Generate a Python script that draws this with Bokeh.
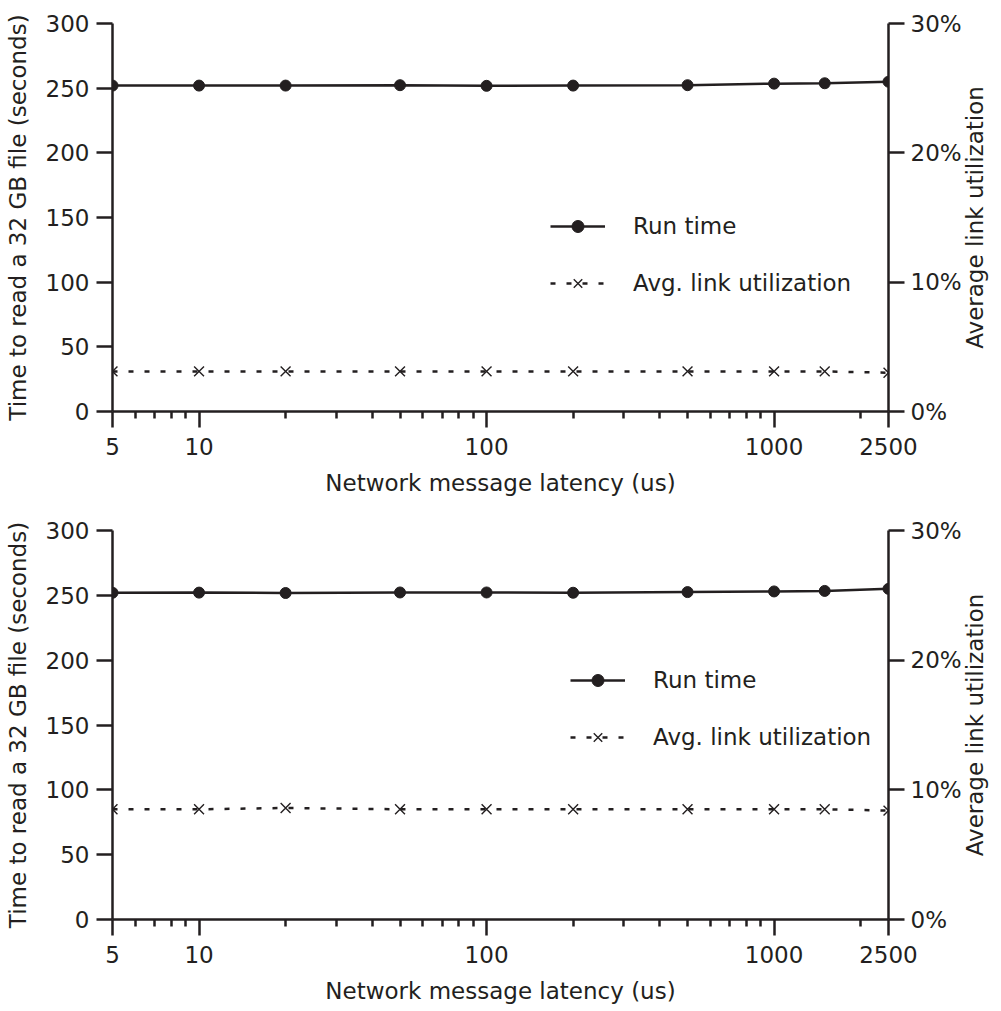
import math
from bokeh.plotting import figure
from bokeh.models import (Range1d, LinearAxis, FixedTicker, NumeralTickFormatter,
                          PrintfTickFormatter, Legend, LegendItem, ColumnDataSource, Label)
from bokeh.layouts import column
from bokeh.embed import file_html
from bokeh.resources import INLINE

# ---- data ----
latency = [5, 10, 20, 50, 100, 200, 500, 1000, 1500, 2500]
run_time_a = [252.0, 252.0, 252.0, 252.3, 251.8, 252.0, 252.3, 253.5, 253.8, 255.0]
util_a = [3.1, 3.1, 3.1, 3.1, 3.1, 3.1, 3.1, 3.1, 3.1, 3.0]
run_time_b = [252.0, 252.1, 251.8, 252.2, 252.2, 252.0, 252.5, 253.0, 253.4, 255.0]
util_b = [8.5, 8.5, 8.6, 8.5, 8.5, 8.5, 8.5, 8.5, 8.5, 8.4]

x_major = [5, 10, 100, 1000, 2500]
x_minor = [6, 7, 8, 9, 20, 30, 40, 50, 60, 70, 80, 90,
           200, 300, 400, 500, 600, 700, 800, 900, 2000]
y_left_ticks = [0, 50, 100, 150, 200, 250, 300]
y_right_ticks = [0, 10, 20, 30]

x_title = "Network message latency (us)"
y_left_title = "Time to read a 32 GB file (seconds)"
y_right_title = "Average link utilization"
series_names = ["Run time", "Avg. link utilization"]

FONT = "DejaVu Sans"
FS = "23px"
INK = "#231f20"
FRAME_W = 776


def style_axis(ax, tick_out, label_standoff, title_standoff):
    ax.axis_line_width = 2.5
    ax.axis_line_color = INK
    ax.major_tick_line_width = 2.5
    ax.major_tick_line_color = INK
    ax.minor_tick_line_width = 2.5
    ax.minor_tick_line_color = INK
    ax.major_tick_in = 0
    ax.major_tick_out = tick_out
    ax.minor_tick_in = 0
    ax.minor_tick_out = 7
    ax.major_label_text_font = FONT
    ax.major_label_text_font_size = FS
    ax.major_label_text_color = INK
    ax.major_label_standoff = label_standoff
    ax.axis_label_text_font = FONT
    ax.axis_label_text_font_size = FS
    ax.axis_label_text_font_style = "normal"
    ax.axis_label_text_color = INK
    ax.axis_label_standoff = title_standoff


def make_panel(run_time, util, top, frame_h, bottom, legend_xy):
    p = figure(x_axis_type="log", x_range=Range1d(5, 2500), y_range=Range1d(0, 300),
               frame_width=FRAME_W, frame_height=frame_h,
               min_border_left=112, min_border_right=113,
               min_border_top=top, min_border_bottom=bottom,
               output_backend="svg", toolbar_location=None, tools="")
    p.extra_y_ranges = {"util": Range1d(0, 30)}
    p.outline_line_color = None
    p.xgrid.visible = False
    p.ygrid.visible = False
    p.background_fill_color = "white"
    p.border_fill_color = "white"

    xa = p.xaxis[0]
    xa.ticker = FixedTicker(ticks=x_major, minor_ticks=x_minor)
    xa.formatter = NumeralTickFormatter(format="0")
    xa.axis_label = x_title
    style_axis(xa, 16, 10, 12)

    ya = p.yaxis[0]
    ya.ticker = FixedTicker(ticks=y_left_ticks, minor_ticks=[])
    ya.axis_label = y_left_title
    style_axis(ya, 16, 7, 12)

    ra = LinearAxis(y_range_name="util",
                    ticker=FixedTicker(ticks=y_right_ticks, minor_ticks=[]),
                    formatter=PrintfTickFormatter(format="%d%%"))
    style_axis(ra, 16, 6, 8)
    p.add_layout(ra, "right")

    # right-hand axis title, reading bottom-to-top as in the reference
    p.add_layout(Label(x=10, y=frame_h / 2,
                       x_units="screen", y_units="screen",
                       text=y_right_title, angle=math.pi / 2,
                       text_align="center", text_baseline="middle",
                       text_font=FONT, text_font_size=FS, text_color=INK), "right")

    src = ColumnDataSource(dict(x=latency, rt=run_time, ut=util))
    l1 = p.line("x", "rt", source=src, line_width=2.5, line_color=INK)
    s1 = p.scatter("x", "rt", source=src, marker="circle", size=11,
                   fill_color=INK, line_color=INK)
    l2 = p.line("x", "ut", source=src, y_range_name="util", line_width=2.5,
                line_color=INK, line_dash="5 11")
    s2 = p.scatter("x", "ut", source=src, y_range_name="util", marker="x", size=14,
                   line_width=1.4, line_color=INK)

    legend = Legend(items=[LegendItem(label=series_names[0], renderers=[l1, s1]),
                           LegendItem(label=series_names[1], renderers=[l2, s2])],
                    location=legend_xy, orientation="vertical",
                    glyph_width=55, glyph_height=30, label_height=30,
                    spacing=27, label_standoff=28, padding=0, margin=0,
                    border_line_color=None, background_fill_alpha=0,
                    label_text_font=FONT, label_text_font_size=FS,
                    label_text_color=INK)
    p.add_layout(legend)
    return p


p_top = make_panel(run_time_a, util_a, 23, 388, 94, (438, 113))
p_bot = make_panel(run_time_b, util_b, 25, 389, 92, (458, 167))

layout = column(p_top, p_bot, spacing=0)
open("out.html", "w").write(file_html(layout, INLINE))
